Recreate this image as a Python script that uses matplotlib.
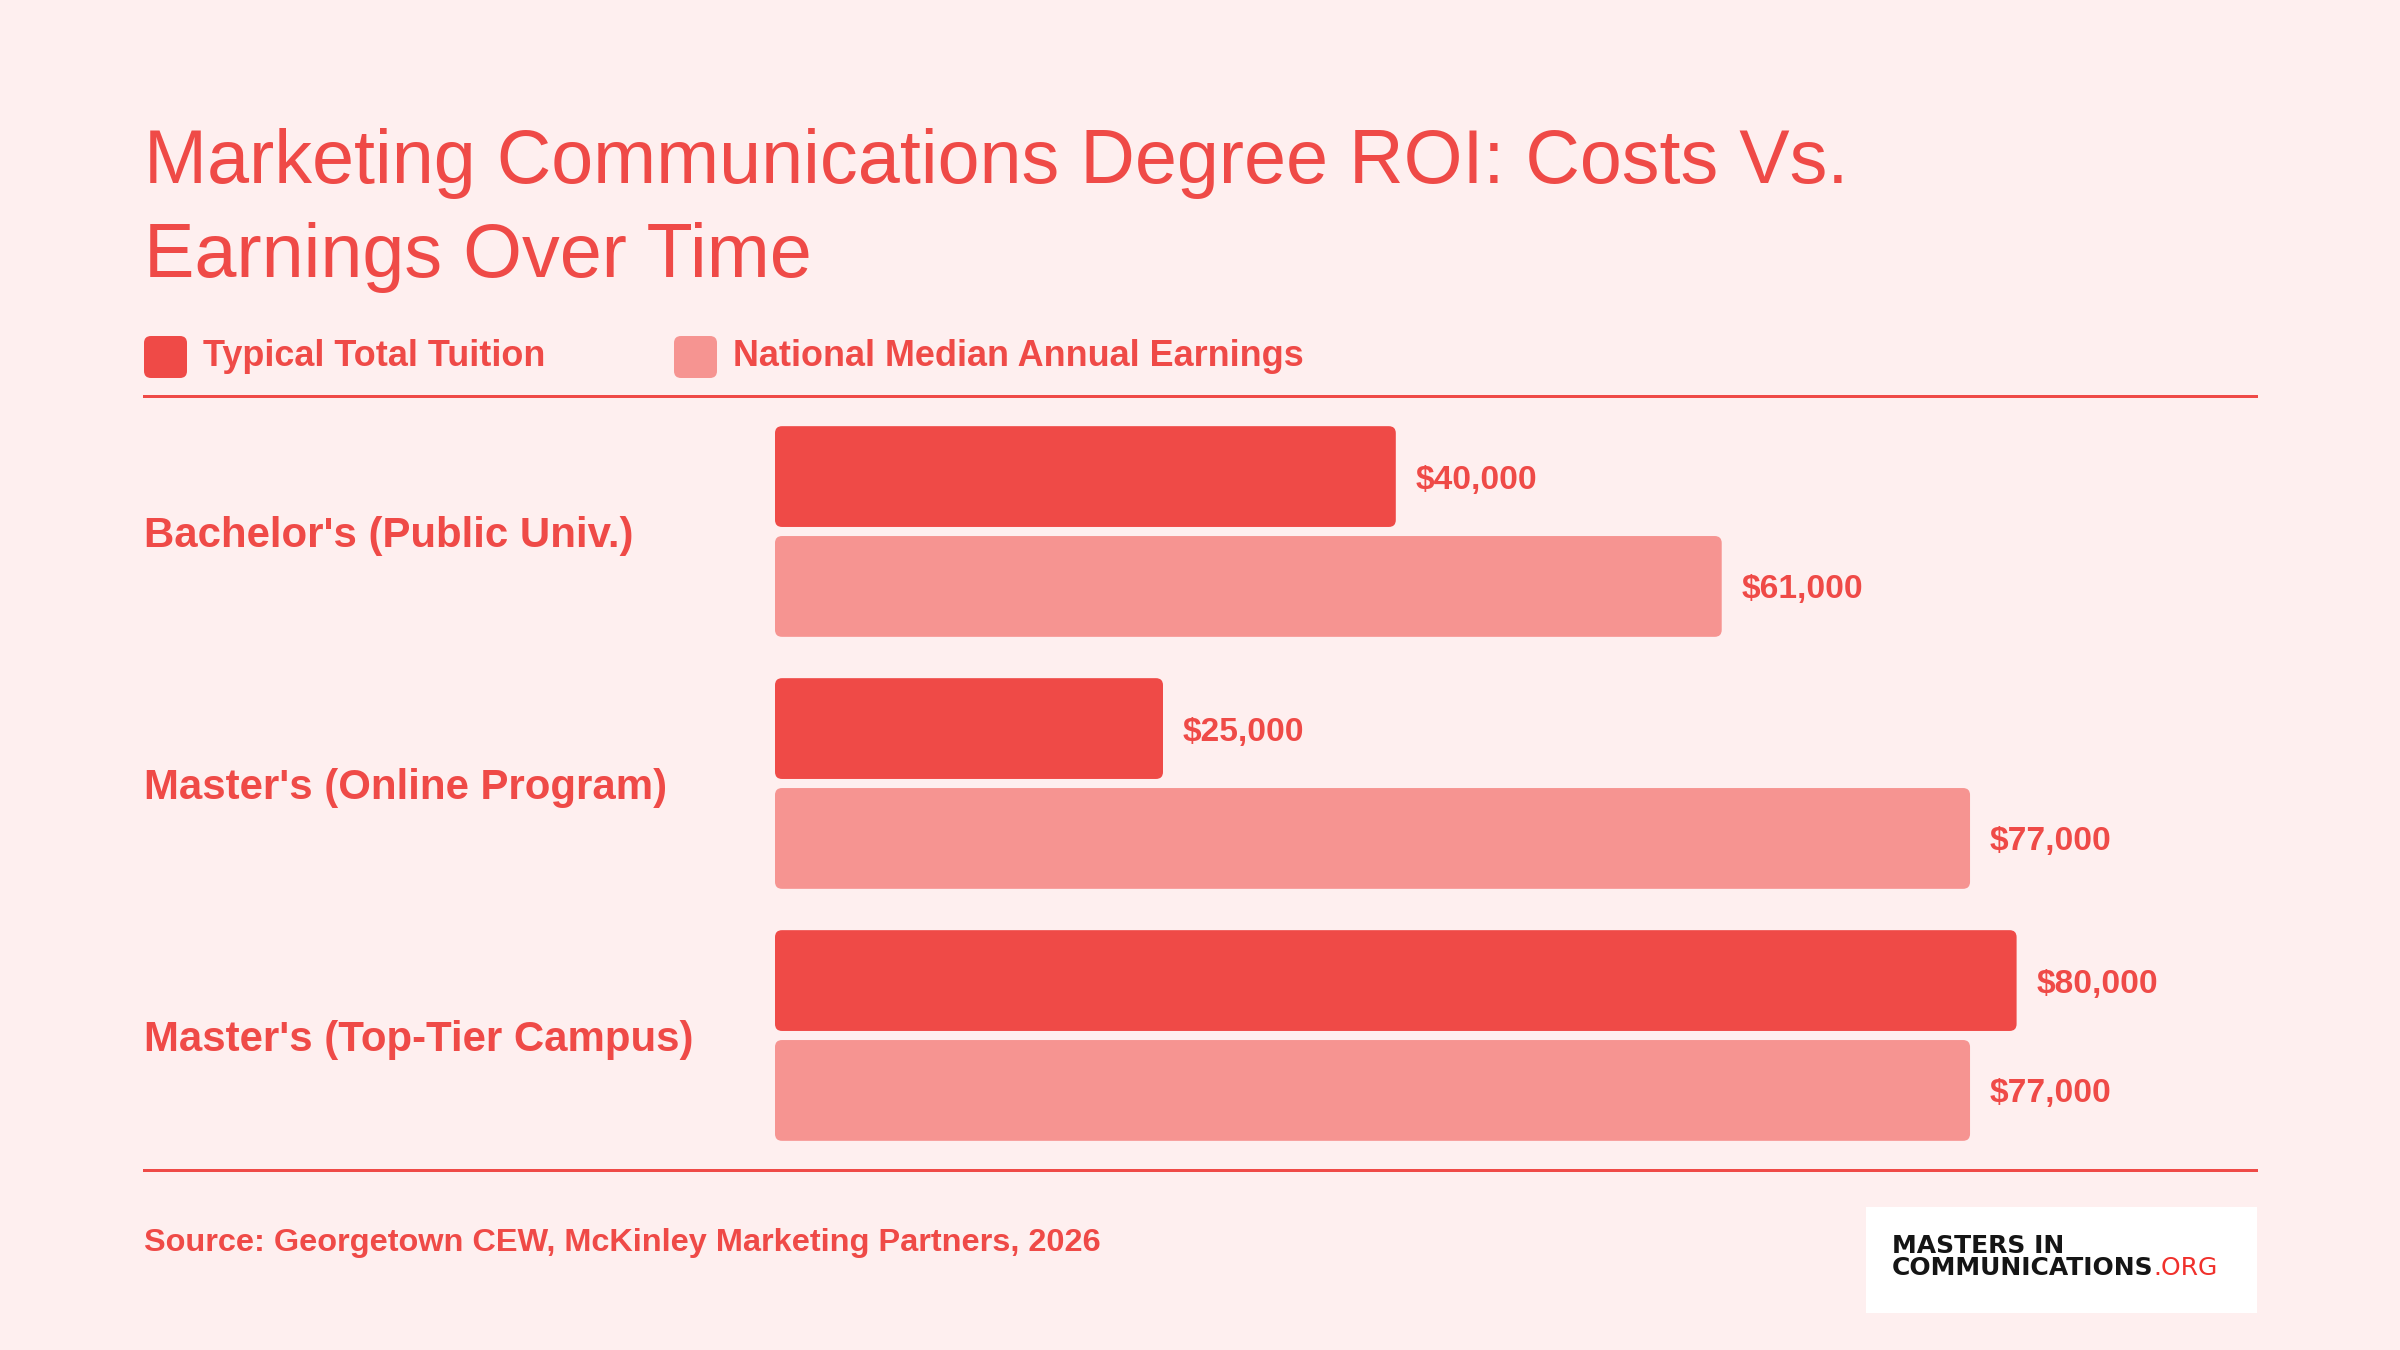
import matplotlib
matplotlib.use("Agg")
import matplotlib.pyplot as plt
from matplotlib.patches import FancyBboxPatch, Rectangle
from matplotlib.lines import Line2D
from matplotlib.text import Annotation
import matplotlib.transforms as mtransforms

# ---------------- data ----------------
categories = ["Bachelor's (Public Univ.)", "Master's (Online Program)", "Master's (Top-Tier Campus)"]
tuition = [40000, 25000, 80000]
earnings = [61000, 77000, 77000]
series_names = ["Typical Total Tuition", "National Median Annual Earnings"]
title_lines = ["Marketing Communications Degree ROI: Costs Vs.", "Earnings Over Time"]
source_text = "Source: Georgetown CEW, McKinley Marketing Partners, 2026"

# ---------------- style ----------------
BG = "#FEEFEF"
RED = "#EF4A47"
LIGHT = "#F69491"
TEXT = "#EF4A47"
FONT = "Liberation Sans"

W, H = 2400, 1350
DPI = 100
fig = plt.figure(figsize=(W / DPI, H / DPI), dpi=DPI, facecolor=BG)


def fx(px):
    return px / W


def fy(py):
    return 1 - py / H


def pt(px):
    return px * 72 / DPI


# ---------------- title ----------------
fig.text(fx(144), fy(183), title_lines[0], fontsize=pt(75.5), color=TEXT,
         family=FONT, va="baseline", ha="left")
fig.text(fx(144), fy(277), title_lines[1], fontsize=pt(75.5), color=TEXT,
         family=FONT, va="baseline", ha="left")

# ---------------- legend ----------------
def fig_round_box(x0, y0, x1, y1, color, r_px):
    box = FancyBboxPatch((fx(x0), fy(y1)), fx(x1 - x0), (y1 - y0) / H,
                         boxstyle=f"round,pad=0,rounding_size={r_px / W}",
                         mutation_aspect=W / H, transform=fig.transFigure,
                         facecolor=color, edgecolor="none")
    fig.add_artist(box)


legend_colors = [RED, LIGHT]
legend_x = [144, 674]
for name, col, x0 in zip(series_names, legend_colors, legend_x):
    fig_round_box(x0, 336, x0 + 43, 378, col, 7)
    fig.text(fx(x0 + 59), fy(366), name, fontsize=pt(36), color=TEXT,
             family=FONT, weight="bold", va="baseline", ha="left")

# ---------------- rules ----------------
for yline in (396, 1170):
    fig.add_artist(Line2D([fx(144), fx(2256)], [fy(yline), fy(yline)],
                          transform=fig.transFigure, color=RED, lw=pt(3)))

# ---------------- bars ----------------
ax_left, ax_right, ax_top, ax_bottom = 775, 2256, 396, 1171
ax = fig.add_axes([fx(ax_left), fy(ax_bottom), fx(ax_right - ax_left),
                   (ax_bottom - ax_top) / H])
ax.set_facecolor("none")
for s in ax.spines.values():
    s.set_visible(False)
ax.set_xticks([])
ax.set_yticks([])

px_per_k = 15.52
xmax = (ax_right - ax_left) / px_per_k * 1000
n = len(categories)
pad = 0.5377
ax.set_xlim(0, xmax)
ax.set_ylim(n - 1 + pad, -pad)

bar_h = 0.40
offset = 0.218
x_per_px = xmax / (ax_right - ax_left)
y_per_px = (n - 1 + 2 * pad) / (ax_bottom - ax_top)
r_px = 7

for i in range(n):
    for val, col, off in ((tuition[i], RED, -offset), (earnings[i], LIGHT, offset)):
        yc = i + off
        patch = FancyBboxPatch((0, yc - bar_h / 2), val, bar_h,
                               boxstyle=f"round,pad=0,rounding_size={r_px * x_per_px}",
                               mutation_aspect=y_per_px / x_per_px,
                               facecolor=col, edgecolor="none")
        ax.add_patch(patch)
        ax.annotate(f"${val:,.0f}", xy=(val, yc), xytext=(20, -12),
                    textcoords="offset pixels", fontsize=pt(33.5), color=TEXT,
                    family=FONT, weight="bold", va="baseline", ha="left",
                    annotation_clip=False)

# category labels
trans = mtransforms.blended_transform_factory(fig.transFigure, ax.transData)
for i, cat in enumerate(categories):
    fig.text(fx(144), i, cat, transform=trans, fontsize=pt(42), color=TEXT,
             family=FONT, weight="bold", va="center_baseline", ha="left")

# ---------------- footer ----------------
fig.text(fx(144), fy(1251), source_text, fontsize=pt(32.5), color=TEXT,
         family=FONT, weight="bold", va="baseline", ha="left")

fig.add_artist(Rectangle((fx(1866), fy(1313)), fx(2257 - 1866), (1313 - 1207) / H,
                         transform=fig.transFigure, facecolor="white",
                         edgecolor="none"))
logo_fs = pt(25)
fig.text(fx(1892), fy(1253), "MASTERS IN", fontsize=logo_fs, color="#151515",
         family="DejaVu Sans", weight="heavy", va="baseline", ha="left")
t2 = fig.text(fx(1892), fy(1280), "COMMUNICATIONS", fontsize=logo_fs, color="#151515",
              family="DejaVu Sans", weight="heavy", va="bottom", ha="left")
fig.add_artist(Annotation(
    ".ORG", xy=(1, 0), xycoords=t2, fontsize=logo_fs, color="#F0302B",
    family="DejaVu Sans", weight="normal", va="bottom", ha="left"))

fig.savefig("out.png", dpi=DPI, facecolor=BG)
